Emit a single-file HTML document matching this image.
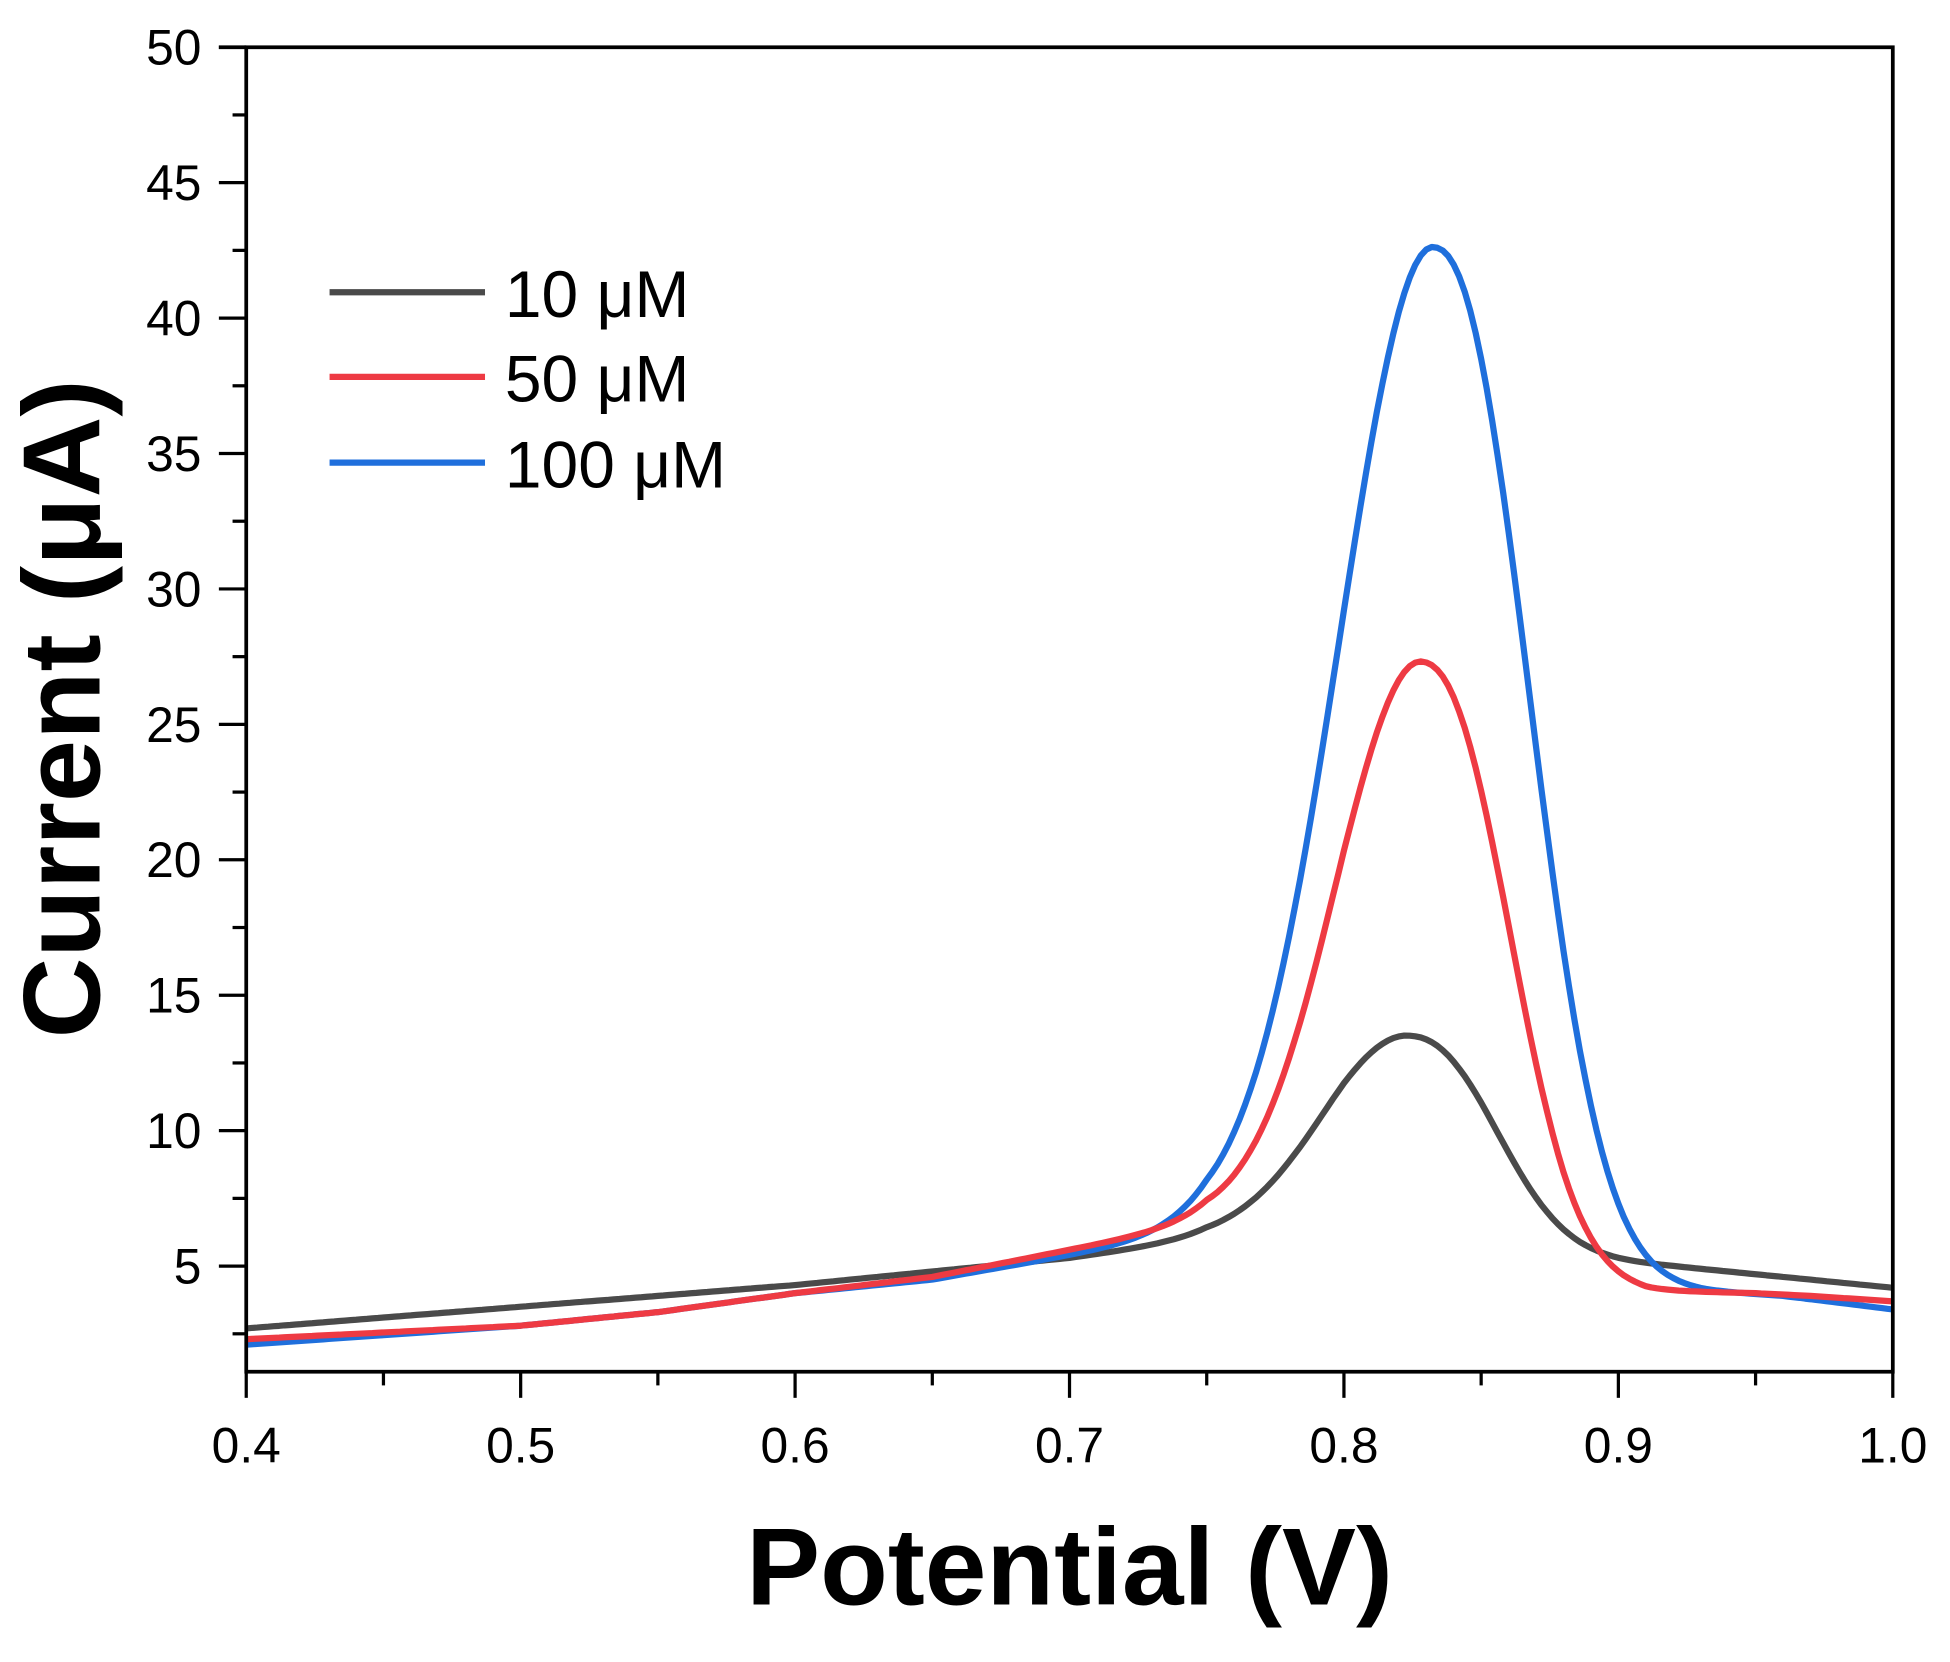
<!DOCTYPE html>
<html><head><meta charset="utf-8"><style>
html,body{margin:0;padding:0;background:#fff;}
svg{display:block;}
text{font-family:"Liberation Sans",Arial,sans-serif;fill:#000;}
</style></head><body>
<svg id="s" width="1950" height="1662" viewBox="0 0 1568 1336.4" xmlns="http://www.w3.org/2000/svg">
<g id="curves" fill="none" stroke-width="5" stroke-linejoin="round"></g>
<g stroke="#000" stroke-width="3" fill="none">
<rect x="198" y="38" width="1324" height="1065"/>
<line x1="176" y1="38" x2="198" y2="38"/>
</g>
<g id="ticks" stroke="#000" stroke-width="2.6"></g>
<g id="labels" font-size="40"></g>
<g stroke-width="5">
<line x1="265" y1="235" x2="390" y2="235" stroke="#4a4a4a"/>
<line x1="265" y1="303" x2="390" y2="303" stroke="#ee3a43"/>
<line x1="265" y1="372" x2="390" y2="372" stroke="#1f6fdc"/>
</g>
<g font-size="53">
<text x="406" y="255">10 μM</text>
<text x="406" y="323">50 μM</text>
<text x="406" y="392">100 μM</text>
</g>
<text x="860" y="1290" font-size="88" font-weight="bold" text-anchor="middle" textLength="520" lengthAdjust="spacingAndGlyphs">Potential (V)</text>
<text transform="translate(80,570) rotate(-90)" font-size="88" font-weight="bold" text-anchor="middle" textLength="530" lengthAdjust="spacingAndGlyphs">Current (μA)</text>
</svg>
<script>
(function(){
var NS="http://www.w3.org/2000/svg";
function X(v){return 198+(v-0.4)/0.6*1324;}
function Y(i){return 1103-(i-1.1)*21.78;}
var t=document.getElementById('ticks'),l=document.getElementById('labels');
function ln(x1,y1,x2,y2){var e=document.createElementNS(NS,'line');e.setAttribute('x1',x1);e.setAttribute('y1',y1);e.setAttribute('x2',x2);e.setAttribute('y2',y2);t.appendChild(e);}
function tx(x,y,s,a){var e=document.createElementNS(NS,'text');e.setAttribute('x',x);e.setAttribute('y',y);e.setAttribute('text-anchor',a);e.textContent=s;l.appendChild(e);}
for(var v=2.5;v<=50.01;v+=2.5){var y=Y(v);var maj=Math.abs(v%5)<0.01;ln(maj?176:187,y,198,y);if(maj)tx(162,y+14,String(v),'end');}
for(var k=0;k<=12;k++){var vv=0.4+k*0.05;var x=X(vv);var maj=k%2==0;ln(x,1103,x,maj?1124:1114);if(maj)tx(x,1176,vv.toFixed(1),'middle');}
function interp(b,v){for(var i=0;i<b.length-1;i++){if(v<=b[i+1][0]){var f=(v-b[i][0])/(b[i+1][0]-b[i][0]);return b[i][1]+f*(b[i+1][1]-b[i][1]);}}return b[b.length-1][1];}
function curve(base,A,c,sl,sr,p,col){var d='';for(var v=0.4;v<=1.0001;v+=0.002){var dd=v-c;var g;if(dd<0)g=Math.exp(-Math.pow(-dd/sl,2)/2);else g=Math.exp(-Math.pow(dd/sr,p)/2);var I=interp(base,v)+A*g;d+=(d?'L':'M')+X(v).toFixed(1)+','+Y(I).toFixed(1);}
var e=document.createElementNS(NS,'path');e.setAttribute('d',d);e.setAttribute('stroke',col);document.getElementById('curves').appendChild(e);}
curve([[0.4,2.7],[0.5,3.5],[0.6,4.3],[0.7,5.3],[0.75,6.0],[0.8,6.2],[0.85,5.8],[0.9,5.2],[0.95,4.7],[1.0,4.2]],7.5,0.824,0.031,0.03,2.3,'#4a4a4a');
curve([[0.4,2.1],[0.5,2.8],[0.55,3.3],[0.6,4.0],[0.65,4.5],[0.7,5.4],[0.75,6.3],[0.8,6.0],[0.88,4.6],[0.93,4.1],[0.96,3.9],[1.0,3.4]],37.2,0.833,0.034,0.033,2.3,'#1f6fdc');
curve([[0.4,2.3],[0.5,2.8],[0.55,3.3],[0.6,4.0],[0.65,4.6],[0.7,5.6],[0.75,6.6],[0.8,6.4],[0.88,4.5],[0.91,4.1],[0.95,4.0],[0.97,3.9],[1.0,3.7]],21.6,0.829,0.031,0.03,2.3,'#ee3a43');
})();
</script>
</body></html>
